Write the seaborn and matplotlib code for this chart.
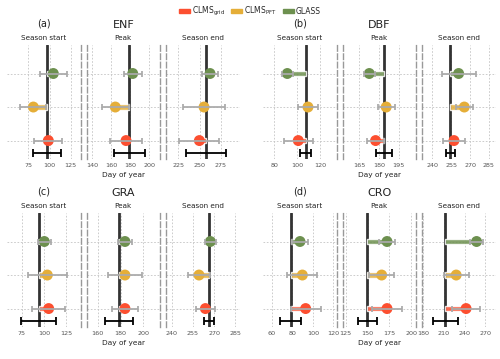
import numpy as np
import pandas as pd
import seaborn as sns
import matplotlib.pyplot as plt
from matplotlib.patches import Patch

sns.set_style("white")
plt.rcParams['font.family'] = ['DejaVu Sans']

# datos (dia del año)
pfts = ['ENF', 'DBF', 'GRA', 'CRO']
letras = ['(a)', '(b)', '(c)', '(d)']
fases = ['Season start', 'Peak', 'Season end']
productos = ['CLMS$_{\\mathrm{grid}}$', 'CLMS$_{\\mathrm{PFT}}$', 'GLASS']
colores = ['#fc4f30', '#e5ae38', '#6d904f']

# referencia (linea negra) y su dispersion
ref_doy = [[97.0, 179.0, 257.3], [107.4, 183.8, 254.3], [93.8, 178.4, 266.2], [78.3, 149.7, 211.9]]
ref_err = [[17.0, 16.3, 23.6], [4.7, 6.0, 3.5], [19.4, 12.2, 3.5], [10.3, 11.0, 18.4]]

# CLMS grid
grid_doy = [[98.6, 175.5, 249.8], [101.0, 177.4, 257.2], [105.1, 183.9, 263.8], [92.9, 172.2, 241.9]]
grid_err = [[16.5, 16.7, 23.6], [12.8, 6.5, 9.0], [18.4, 11.3, 6.5], [14.7, 17.0, 20.2]]

# CLMS PFT
pft_doy = [[80.9, 164.2, 255.3], [109.5, 185.5, 265.4], [103.6, 183.9, 259.3], [89.7, 166.1, 227.6]]
pft_err = [[15.2, 14.4, 25.2], [8.4, 6.6, 6.8], [22.0, 15.0, 7.6], [14.8, 14.3, 18.3]]

# GLASS
glass_doy = [[104.5, 182.5, 262.4], [91.4, 172.6, 260.9], [100.2, 183.9, 267.3], [87.4, 172.2, 257.1]]
glass_err = [[16.2, 9.4, 9.1], [4.8, 4.0, 13.5], [7.5, 6.2, 4.1], [8.2, 8.7, 8.8]]

# ejes rotos: limites y ticks de cada subpanel
limites = [[(49.8, 136.6), (133.9, 211.2), (210.4, 297.2)],
           [(70.1, 134.5), (152.2, 208.2), (231.8, 290.2)],
           [(58.1, 141.0), (150.2, 214.6), (236.0, 287.9)],
           [(51.2, 123.1), (121.4, 205.3), (178.1, 284.5)]]
ticks = [[[75, 100, 125], [140, 160, 180, 200], [225, 250, 275]],
         [[80, 100, 120], [165, 180, 195], [240, 255, 270, 285]],
         [[75, 100, 125], [160, 180, 200], [240, 255, 270, 285]],
         [[60, 80, 100, 120], [125, 150, 175, 200], [180, 210, 240, 270]]]

W, H = 500, 359
fig = plt.figure(figsize=(W / 100, H / 100), dpi=100)

izq = [7, 263]
arriba = [45, 213]
ancho, hueco, alto = 73.5, 6, 114
ylim = (-0.55, 2.85)
y_ref = -0.36

for p in range(4):
    x0 = izq[p % 2]
    y0 = arriba[p // 2]
    for f in range(3):
        left = x0 + f * (ancho + hueco)
        ax = fig.add_axes([left / W, 1 - (y0 + alto) / H, ancho / W, alto / H])
        ax.set_axisbelow(True)
        ax.grid(True, linestyle=(0, (2, 2)), lw=0.6, color='#c4c4c4')

        ref = ref_doy[p][f]
        df = pd.DataFrame({
            'producto': productos,
            'fila': [0, 1, 2],
            'doy': [grid_doy[p][f], pft_doy[p][f], glass_doy[p][f]],
            'err': [grid_err[p][f], pft_err[p][f], glass_err[p][f]],
        })

        ax.axvline(ref, color='#333333', lw=2, zorder=2)
        ax.barh(df['fila'], df['doy'] - ref, left=ref, height=0.16,
                color=colores, alpha=0.85, zorder=2.5)
        sns.scatterplot(data=df, x='doy', y='fila', hue='producto', palette=colores,
                        s=62, linewidth=0, legend=False, ax=ax, zorder=4)
        ax.errorbar(df['doy'], df['fila'], xerr=df['err'], fmt='none', ecolor='#aaaaaa',
                    elinewidth=1.4, capsize=2.5, capthick=1.4, alpha=0.9, zorder=5)
        ax.errorbar([ref], [y_ref], xerr=[ref_err[p][f]], fmt='none', ecolor='black',
                    elinewidth=1.3, capsize=2.8, capthick=1.3, zorder=6)

        ax.set_xlim(limites[p][f])
        ax.set_ylim(ylim)
        ax.set_xticks(ticks[p][f])
        ax.set_yticks([0, 1, 2])
        ax.set_yticklabels([])
        ax.tick_params(axis='x', length=0, labelsize=4.6, labelcolor='#555555', pad=3)
        ax.tick_params(axis='y', length=2.5, width=0.6, color='#999999')
        ax.set_xlabel('')
        ax.set_ylabel('')

        for s in ax.spines.values():
            s.set_visible(False)
        lados = {0: ['right'], 1: ['left', 'right'], 2: ['left']}[f]
        for lado in lados:
            sp = ax.spines[lado]
            sp.set_visible(True)
            sp.set_linestyle((0, (4, 2)))
            sp.set_color('#999999')
            sp.set_linewidth(1)

        ax.set_title(fases[f], fontsize=5.2, pad=3.5, color='#222222')
        if f == 1:
            ax.set_xlabel('Day of year', fontsize=5.3, color='#222222', labelpad=3)

    fig.text((x0 + ancho / 2) / W, 1 - (y0 - 22) / H, letras[p], fontsize=7,
             ha='center', va='center', color='#222222')
    fig.text((x0 + 1.5 * ancho + hueco) / W, 1 - (y0 - 20) / H, pfts[p], fontsize=8,
             ha='center', va='center', color='#222222')

manijas = [Patch(color=c) for c in colores]
fig.legend(manijas, productos, loc='upper center', bbox_to_anchor=(0.5, 1.0), ncol=3,
           frameon=False, fontsize=5.5, handlelength=1.4, handleheight=0.5,
           handletextpad=0.3, columnspacing=0.8, borderaxespad=0.2)

plt.savefig('out.png', dpi=100)
